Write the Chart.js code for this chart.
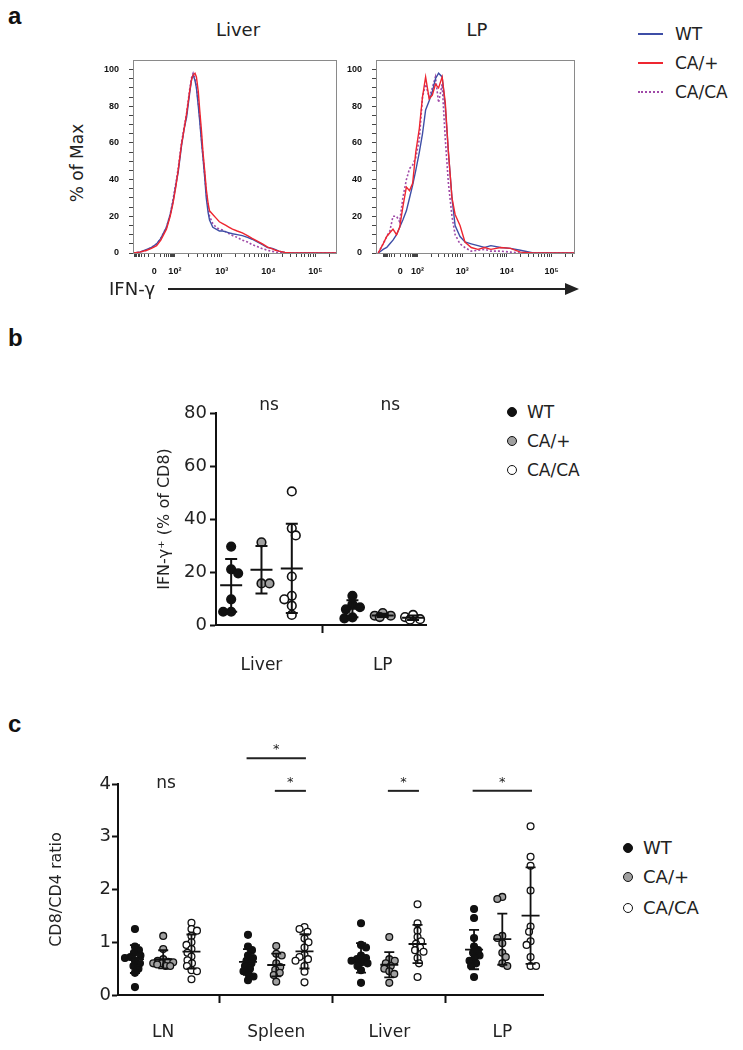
<!DOCTYPE html>
<html><head><meta charset="utf-8">
<script src="https://cdn.jsdelivr.net/npm/chart.js@4/dist/chart.umd.min.js"></script>
<style>
html,body{margin:0;padding:0;background:#fff}
body{width:743px;height:1050px;position:relative;overflow:hidden;font-family:"DejaVu Sans",sans-serif;color:#222}
.box{position:absolute}
.t{position:absolute;white-space:nowrap;line-height:1}
.letter{position:absolute;font-family:"Liberation Sans",Arial,sans-serif;font-weight:bold;font-size:24px;line-height:24px;color:#111}
.dot{position:absolute;width:10px;height:10px;border-radius:50%;box-sizing:border-box;border:1.5px solid #111}
.ln{position:absolute;width:25px;height:0}
</style></head><body>

<div class="letter" style="left:8px;top:4px">a</div>
<div class="letter" style="left:8px;top:326px">b</div>
<div class="letter" style="left:8px;top:712px">c</div>

<!-- panel a -->
<div class="t" style="left:188px;width:100px;text-align:center;top:21px;font-size:18px">Liver</div>
<div class="t" style="left:427px;width:100px;text-align:center;top:21px;font-size:18px">LP</div>
<div class="t" style="left:17px;top:153px;width:120px;height:20px;line-height:20px;text-align:center;font-size:17px;transform:rotate(-90deg)">% of Max</div>
<div class="box" style="left:88px;top:45px;width:252px;height:240px"><canvas id="hLiver"></canvas></div>
<div class="box" style="left:331px;top:45px;width:251px;height:240px"><canvas id="hLP"></canvas></div>
<div class="t" style="left:109px;top:280px;font-size:18px">IFN-γ</div>
<div style="position:absolute;left:168px;top:288px;width:400px;height:2px;background:#222"></div>
<div style="position:absolute;left:565px;top:283px;width:0;height:0;border-top:6px solid transparent;border-bottom:6px solid transparent;border-left:14px solid #222"></div>

<div class="ln" style="left:638px;top:33px;border-top:2px solid #3e4ea6"></div>
<div class="t" style="left:675px;top:26px;font-size:17px">WT</div>
<div class="ln" style="left:638px;top:62px;border-top:2px solid #ee2630"></div>
<div class="t" style="left:675px;top:55px;font-size:17px">CA/+</div>
<div class="ln" style="left:638px;top:91px;border-top:2px dotted #a04aa8"></div>
<div class="t" style="left:675px;top:84px;font-size:17px">CA/CA</div>

<!-- panel b -->
<div class="box" style="left:140px;top:385px;width:292px;height:305px"><canvas id="bChart"></canvas></div>
<div class="dot" style="left:507px;top:407px;background:#111"></div>
<div class="t" style="left:527px;top:404px;font-size:17px">WT</div>
<div class="dot" style="left:507px;top:436px;background:#a0a0a0"></div>
<div class="t" style="left:527px;top:433px;font-size:17px">CA/+</div>
<div class="dot" style="left:507px;top:465px;background:#fff"></div>
<div class="t" style="left:527px;top:462px;font-size:17px">CA/CA</div>

<!-- panel c -->
<div class="box" style="left:20px;top:730px;width:528px;height:315px"><canvas id="cChart"></canvas></div>
<div class="dot" style="left:623px;top:843px;background:#111"></div>
<div class="t" style="left:643px;top:839px;font-size:18px">WT</div>
<div class="dot" style="left:623px;top:872px;background:#a0a0a0"></div>
<div class="t" style="left:643px;top:868px;font-size:18px">CA/+</div>
<div class="dot" style="left:623px;top:903px;background:#fff"></div>
<div class="t" style="left:643px;top:899px;font-size:18px">CA/CA</div>

<script>
// ---------- Panel a : histogram data (x in log-decade display units) ----------
const liverX   = [1.11,1.25,1.4,1.5,1.61,1.7,1.82,1.9,1.96,2.02,2.07,2.14,2.2,2.25,2.32,2.36,2.39,2.43,2.46,2.5,2.53,2.57,2.6,2.64,2.67,2.71,2.74,2.81,2.88,2.95,3.02,3.09,3.16,3.23,3.33,3.44,3.55,3.65,3.76,3.87,3.98,4.08,4.15,4.22,4.35,4.5,4.8,5.44];
const liverWT  = [0,0.5,2,3,5,8,14,21,28,37,44,58,68,74,88,95,97,94,90,80,72,60,52,40,30,22,18,14,13,12,12,11.5,11,10.5,10,9.5,8.5,7.5,6,4.5,3,2.5,1.8,1,0.3,0,0,0];
const liverHet = [0,0.5,1.5,2.5,4,7,13,20,27,36,45,59,68,76,89,95,97,98,96,88,78,66,55,44,35,27,23,21,19,17,16,15,14,13,12,11,9.5,8,6.5,5,3.2,2.2,1.5,1,0.3,0,0,0];
const liverHom = [0,0.5,1.5,3,5,8,14,21,29,38,46,60,69,76,90,96,98,95,91,82,74,62,53,42,33,25,20,16,14,13,12.5,11.5,10.5,9.5,8.5,7,6,4.5,3.5,2.3,1.5,0.9,0.5,0.2,0,0,0,0];

const lpX   = [1.12,1.23,1.31,1.38,1.45,1.53,1.60,1.67,1.75,1.82,1.89,1.96,2.04,2.11,2.18,2.26,2.33,2.40,2.47,2.55,2.62,2.69,2.77,2.84,2.95,3.06,3.20,3.35,3.50,3.64,3.86,4.08,4.30,4.59,5.03,5.5];
const lpWT  = [0,2,3,5,7,10,14,18,23,30,37,45,55,65,78,83,88,95,98,96,80,55,30,15,9,6,5,4,3,4,3,2.5,1.5,0,0,0];
const lpHet = [0,5,9,11,13,10,14,25,36,34,38,55,68,85,96,84,86,92,90,96,82,55,30,21,15,6,3,2,3,2,3,2.5,0.5,0,0,0];
const lpHom = [0,5,9,12,20,20,17,30,40,46,48,52,62,85,92,85,90,96,82,92,62,38,20,10,5,3,1,1.5,2,1,1,0.5,0,0,0,0];

const fcsTickLabels = ['0','10²','10³','10⁴','10⁵'];
const liverTickPos  = [1.56,2,3,4,5];
const lpTickPos     = [1.61,2,3,4,5];
const pctLabelTicks = [0,20,40,60,80,100];

// ---------- Panel b ----------
const genotypes   = ['WT','CA/+','CA/CA'];
const bCategories = ['Liver','LP'];
const bWT  = [[29.6,21.0,19.5,9.7,5.0,5.0],[11.0,7.8,6.7,5.9,2.9,2.5]];
const bHet = [[31.2,15.7,15.7],[4.5,3.5,3.0,3.5]];
const bHom = [[50.4,36.5,33.8,18.3,11.0,9.7,7.3,3.8],[3.0,2.2,2.0,3.8]];
const bTicks = [0,20,40,60,80];
const bSig = ['ns','ns'];

// ---------- Panel c ----------
const cCategories = ['LN','Spleen','Liver','LP'];
const cWT = [
  [1.25,0.92,0.85,0.8,0.75,0.72,0.7,0.65,0.6,0.55,0.5,0.42,0.15],
  [1.14,0.92,0.85,0.75,0.7,0.65,0.6,0.55,0.5,0.45,0.4,0.35,0.28],
  [1.36,0.95,0.9,0.75,0.7,0.68,0.65,0.62,0.6,0.55,0.47,0.23],
  [1.63,1.46,1.08,0.92,0.85,0.8,0.75,0.7,0.65,0.6,0.55,0.34]
];
const cHet = [
  [1.12,0.87,0.68,0.65,0.63,0.62,0.6,0.6,0.58,0.55,0.55],
  [0.93,0.78,0.75,0.6,0.53,0.48,0.42,0.38,0.25],
  [1.1,0.68,0.65,0.6,0.55,0.5,0.45,0.4,0.23],
  [1.86,1.82,1.12,1.08,0.98,0.8,0.72,0.6,0.55]
];
const cHom = [
  [1.37,1.25,1.22,1.12,1.0,0.95,0.87,0.8,0.73,0.66,0.6,0.55,0.47,0.45,0.3],
  [1.29,1.25,1.2,1.07,1.0,0.9,0.76,0.72,0.68,0.65,0.55,0.44,0.24],
  [1.72,1.36,1.22,1.1,1.02,0.97,0.9,0.85,0.82,0.7,0.6,0.34],
  [3.2,2.62,2.45,1.98,1.3,1.2,1.02,0.95,0.72,0.55,0.55]
];
const cTicks = [0,1,2,3,4];
const cNs = [{cat:0,label:'ns'}];
const cBrackets = [
  {cat:1,from:0,to:2,tier:1,label:'*'},
  {cat:1,from:1,to:2,tier:0,label:'*'},
  {cat:2,from:1,to:2,tier:0,label:'*'},
  {cat:3,from:0,to:2,tier:0,label:'*'}
];
const cTierY = [3.87,4.49];

// ---------- common ----------
Chart.defaults.font.family = "'DejaVu Sans', sans-serif";
Chart.defaults.color = '#222';
Chart.defaults.animation = false;
const COL = {wt:'#3e4ea6', het:'#ee2630', hom:'#a04aa8'};
const FILL = ['#111111','#a0a0a0','#ffffff'];
const zip = (xs, ys) => xs.map((x,i)=>({x, y:ys[i]}));

const framePlugin = {id:'frame', afterDraw(chart){
  const {ctx, chartArea:a} = chart;
  ctx.save(); ctx.strokeStyle='#8a8a8a'; ctx.lineWidth=1;
  ctx.strokeRect(Math.round(a.left)+0.5, Math.round(a.top)+0.5, Math.round(a.right-a.left), Math.round(a.bottom-a.top));
  ctx.restore();
}};

function histChart(id, xs, wt, het, hom, tickPos, xmin, xmax){
  const zero = tickPos[0];
  const minor = [];
  for (let k=2;k<=9;k++){
    minor.push(zero + (2-zero)*Math.log10(k));
    minor.push(zero - (2-zero)*Math.log10(k));
    for (let d=2; d<=5; d++) minor.push(d + Math.log10(k));
  }
  const allX = tickPos.concat(minor).filter(v=>v>xmin && v<xmax).sort((a,b)=>a-b);
  const allY = []; for (let v=0; v<=100; v+=5) allY.push(v);
  const tickFont = {family:"'Liberation Sans', Arial, sans-serif", size:9, weight:'bold'};
  return new Chart(document.getElementById(id), {
    type:'line',
    data:{datasets:[
      {label:'CA/+', data:zip(xs,het), borderColor:COL.het, borderWidth:1.4},
      {label:'WT', data:zip(xs,wt), borderColor:COL.wt, borderWidth:1.4},
      {label:'CA/CA', data:zip(xs,hom), borderColor:COL.hom, borderWidth:1.6, borderDash:[2,2]}
    ]},
    options:{
      responsive:true, maintainAspectRatio:false, events:[],
      elements:{point:{radius:0}, line:{tension:0}},
      layout:{padding:{top:8,right:4,left:0,bottom:0}},
      plugins:{legend:{display:false}, tooltip:{enabled:false}},
      scales:{
        x:{type:'linear', min:xmin, max:xmax,
           afterBuildTicks:s=>{ s.ticks = allX.map(v=>({value:v})); },
           ticks:{autoSkip:false, maxRotation:0, padding:9, color:'#111', font:tickFont,
             callback:(v)=>{ const i = tickPos.findIndex(p=>Math.abs(p-v)<1e-9); return i>=0 ? fcsTickLabels[i] : ''; }},
           grid:{drawOnChartArea:false, tickLength:4, tickColor:'#444', tickWidth:1},
           border:{display:false},
           afterFit:s=>{ s.height = 32; }},
        y:{type:'linear', min:0, max:105,
           afterBuildTicks:s=>{ s.ticks = allY.map(v=>({value:v})); },
           ticks:{autoSkip:false, padding:10, color:'#111', font:tickFont,
             callback:(v)=> pctLabelTicks.includes(v) ? String(v) : ''},
           grid:{drawOnChartArea:false, tickLength:4, tickColor:'#444', tickWidth:1},
           border:{display:false},
           afterFit:s=>{ s.width = 45; }}
      }
    },
    plugins:[framePlugin]
  });
}
histChart('hLiver', liverX, liverWT, liverHet, liverHom, liverTickPos, 1.106, 5.44);
histChart('hLP', lpX, lpWT, lpHet, lpHom, lpTickPos, 1.07, 5.5);

// ---------- dot plots ----------
function statPlugin(meanHalf, capHalf, lw){
  return {id:'stat', afterDatasetsDraw(chart){
    const {ctx} = chart, xs = chart.scales.x, ys = chart.scales.y;
    ctx.save(); ctx.strokeStyle='#111'; ctx.lineWidth=lw;
    chart.data.datasets.forEach(ds=>{
      const n = ds.vals.length;
      const m = ds.vals.reduce((a,b)=>a+b,0)/n;
      const sd = Math.sqrt(ds.vals.reduce((a,b)=>a+(b-m)*(b-m),0)/(n-1));
      const x = xs.getPixelForValue(ds.center);
      const yt = ys.getPixelForValue(m+sd), yb = ys.getPixelForValue(Math.max(0,m-sd)), ym = ys.getPixelForValue(m);
      ctx.beginPath();
      ctx.moveTo(x,yt); ctx.lineTo(x,yb);
      ctx.moveTo(x-capHalf,yt); ctx.lineTo(x+capHalf,yt);
      ctx.moveTo(x-capHalf,yb); ctx.lineTo(x+capHalf,yb);
      ctx.moveTo(x-meanHalf,ym); ctx.lineTo(x+meanHalf,ym);
      ctx.stroke();
    });
    ctx.restore();
  }};
}

function buildDatasets(cats, groups, r, bw){
  const out = [];
  cats.forEach((c,ci)=>{
    groups.forEach((g,gi)=>{
      const vals = g[ci];
      const center = ci*4 + gi;
      out.push({label:genotypes[gi]+' '+c, vals, center,
        data: vals.map(v=>({x:center, y:v})),
        backgroundColor:FILL[gi], borderColor:'#111', borderWidth:bw,
        pointRadius:r, pointHoverRadius:r, showLine:false, clip:false});
    });
  });
  return out;
}

// beeswarm layout: spread overlapping points sideways, within a maximum offset
function applySwarm(chart, minDist, maxOff){
  const xs = chart.scales.x, ys = chart.scales.y;
  chart.data.datasets.forEach(ds=>{
    const cx = xs.getPixelForValue(ds.center);
    const placed = [];
    const out = new Array(ds.vals.length);
    const order = ds.vals.map((v,i)=>i).sort((a,b)=>ds.vals[b]-ds.vals[a]);
    order.forEach((i,n)=>{
      const py = ys.getPixelForValue(ds.vals[i]);
      const sgn = n%2 ? -1 : 1;
      let best = 0, bestD = -1, found = false;
      const steps = Math.floor(maxOff/0.5)*2;
      for (let k=0;k<=steps;k++){
        const cand = k===0 ? 0 : Math.ceil(k/2)*0.5*((k%2)? sgn : -sgn);
        const d = placed.length ? Math.min(...placed.map(p=>Math.hypot(p.x-(cx+cand), p.y-py))) : Infinity;
        if (d >= minDist) { best = cand; found = true; break; }
        if (d > bestD + 0.01) { bestD = d; best = cand; }
      }
      placed.push({x:cx+best, y:py});
      out[i] = {x:xs.getValueForPixel(cx+best), y:ds.vals[i]};
    });
    ds.data = out;
  });
  chart.update('none');
}

function dotChart(id, cats, groups, opt){
  const catPos = cats.map((c,i)=>i*4+1);
  const sepPos = cats.slice(1).map((c,i)=>i*4+3);
  const tickVals = catPos.concat(sepPos).sort((a,b)=>a-b);
  const chart = new Chart(document.getElementById(id), {
    type:'scatter',
    data:{datasets:buildDatasets(cats, groups, opt.r, opt.bw)},
    options:{
      responsive:true, maintainAspectRatio:false, events:[],
      layout:{padding:{top:opt.padTop, right:5, left:0, bottom:0}},
      plugins:{legend:{display:false}, tooltip:{enabled:false}},
      scales:{
        x:{type:'linear', min:opt.xmin, max:opt.xmax,
           afterBuildTicks:s=>{ s.ticks = tickVals.map(v=>({value:v})); },
           ticks:{autoSkip:false, maxRotation:0, padding:opt.xPad, color:'#222', font:{size:17},
             callback:(v)=>{ const i = catPos.indexOf(v); return i>=0 ? cats[i] : ''; }},
           grid:{drawOnChartArea:false, tickLength:8, tickWidth:2,
             tickColor:(ctx)=> (ctx.tick && sepPos.includes(ctx.tick.value)) ? '#111' : 'rgba(0,0,0,0)'},
           border:{display:true, color:'#111', width:2},
           afterFit:s=>{ s.height = opt.xH; }},
        y:{type:'linear', min:opt.ymin, max:opt.ymax,
           afterBuildTicks:s=>{ s.ticks = opt.yTicks.map(v=>({value:v})); },
           ticks:{autoSkip:false, padding:opt.yPad, color:'#222', font:{size:18}},
           grid:{drawOnChartArea:false, tickLength:6, tickWidth:2, tickColor:'#111'},
           border:{display:true, color:'#111', width:2},
           title:{display:true, text:opt.title, color:'#222', font:{size:16}, padding:{top:opt.titlePad, bottom:0}},
           afterFit:s=>{ s.width = opt.yW; }}
      }
    },
    plugins:[statPlugin(opt.meanHalf, opt.capHalf, opt.lw), {id:'ann', afterDraw:opt.ann}]
  });
  applySwarm(chart, opt.minDist, opt.maxOff);
  return chart;
}

dotChart('bChart', bCategories, [bWT,bHet,bHom], {
  r:4.3, bw:1.6, minDist:8, maxOff:8, padTop:28, xmin:-0.5, xmax:6.43, xPad:22, xH:65,
  ymin:0, ymax:80, yTicks:bTicks, yPad:3, yW:76, title:'IFN-γ⁺ (% of CD8)', titlePad:15,
  meanHalf:11, capHalf:6, lw:2,
  ann:(chart)=>{
    const {ctx} = chart, xs = chart.scales.x, ys = chart.scales.y;
    ctx.save(); ctx.fillStyle='#222'; ctx.font="17px 'DejaVu Sans', sans-serif";
    ctx.textAlign='center'; ctx.textBaseline='alphabetic';
    bCategories.forEach((c,ci)=>{ ctx.fillText(bSig[ci], xs.getPixelForValue(ci*4+1.25), ys.getPixelForValue(81)); });
    ctx.restore();
  }
});

dotChart('cChart', cCategories, [cWT,cHet,cHom], {
  r:3.4, bw:1.3, minDist:5.4, maxOff:10, padTop:54, xmin:-0.6, xmax:14.44, xPad:19, xH:50,
  ymin:0, ymax:4, yTicks:cTicks, yPad:1, yW:98, title:'CD8/CD4 ratio', titlePad:27,
  meanHalf:9, capHalf:5, lw:1.8,
  ann:(chart)=>{
    const {ctx} = chart, xs = chart.scales.x, ys = chart.scales.y;
    ctx.save(); ctx.fillStyle='#222'; ctx.strokeStyle='#222'; ctx.lineWidth=2;
    ctx.textAlign='center'; ctx.textBaseline='alphabetic';
    ctx.font="17px 'DejaVu Sans', sans-serif";
    cNs.forEach(n=>{ ctx.fillText(n.label, xs.getPixelForValue(n.cat*4+1.1), ys.getPixelForValue(3.93)); });
    ctx.font="13px 'DejaVu Sans', sans-serif";
    cBrackets.forEach(b=>{
      const x1 = xs.getPixelForValue(b.cat*4+b.from-0.05), x2 = xs.getPixelForValue(b.cat*4+b.to+0.05);
      const y = ys.getPixelForValue(cTierY[b.tier]);
      ctx.beginPath(); ctx.moveTo(x1,y); ctx.lineTo(x2,y); ctx.stroke();
      ctx.fillText(b.label, (x1+x2)/2, y-5);
    });
    ctx.restore();
  }
});
</script>
</body></html>
